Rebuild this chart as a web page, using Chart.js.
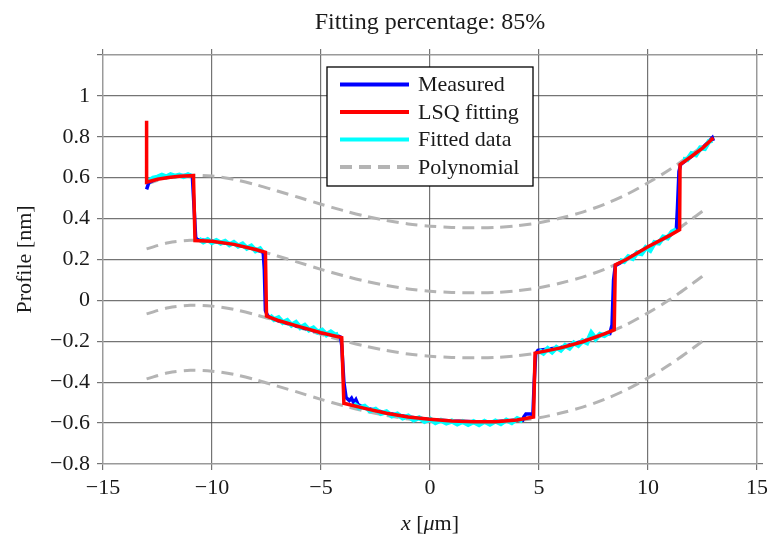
<!DOCTYPE html>
<html>
<head>
<meta charset="utf-8">
<title>Profile fit</title>
<script src="https://cdn.jsdelivr.net/npm/chart.js@4.4.1/dist/chart.umd.min.js"></script>
<style>
  html, body { margin: 0; padding: 0; background: #fff; }
  #wrap { width: 767px; height: 534px; }
</style>
</head>
<body>
<div id="wrap"><canvas id="profileChart" width="767" height="534"></canvas></div>
<script>
    // fonts
    const FONT = '"Liberation Serif", "DejaVu Serif", serif';

    // measured profile
    const measX = [-13.0,-12.9,-12.5,-12.0,-11.5,-11.0,-10.9,-10.82,-10.75,-10.7,-10.0,-9.0,-8.0,-7.65,-7.6,-7.55,-7.45,-7.0,-6.0,-5.0,
                   -4.2,-4.1,-4.05,-3.95,-3.85,-3.7,-3.6,-3.5,-3.4,-3.3,-3.0,-2.0,-1.0,0.0,1.0,2.0,3.0,4.0,4.25,4.3,
                   4.4,4.6,4.72,4.78,4.85,4.95,6.0,7.0,8.0,8.25,8.35,8.42,8.5,9.0,10.0,11.0,11.3,11.35,11.42,11.5,
                   12.0,12.5,12.95,13.0];
    const measY = [0.543,0.575,0.598,0.604,0.610,0.612,0.605,0.45,0.31,0.298,0.289,0.275,0.250,0.235,0.15,-0.05,-0.075,-0.098,-0.129,-0.158,
                   -0.175,-0.18,-0.22,-0.40,-0.475,-0.49,-0.478,-0.5,-0.485,-0.51,-0.525,-0.550,-0.570,-0.582,-0.590,-0.594,-0.593,-0.585,-0.586,-0.57,
                   -0.555,-0.555,-0.56,-0.40,-0.26,-0.245,-0.230,-0.200,-0.165,-0.162,-0.12,0.10,0.17,0.2,0.26,0.318,0.345,0.45,0.63,0.665,
                   0.705,0.745,0.795,0.78];

    // LSQ fitted terraces
    const lsqX = [-13.0,-13.0,-12.5,-12.0,-11.5,-10.85,-10.78,-10.0,-9.0,-8.0,-7.55,-7.5,-7.0,-6.0,-5.0,-4.05,-3.95,-3.0,-2.0,-1.0,
                  0.0,1.0,2.0,3.0,4.0,4.75,4.82,6.0,7.0,8.0,8.45,8.5,9.0,10.0,11.0,11.45,11.47,12.0,12.5,13.0];
    const lsqY = [0.878,0.578,0.592,0.601,0.607,0.610,0.293,0.289,0.274,0.249,0.235,-0.077,-0.097,-0.128,-0.158,-0.182,-0.503,-0.528,-0.552,-0.570,
                  -0.581,-0.590,-0.594,-0.593,-0.585,-0.570,-0.258,-0.232,-0.202,-0.164,-0.144,0.174,0.200,0.262,0.318,0.346,0.664,0.705,0.745,0.795];

    // points used for the fit, one list per terrace
    const fitX = [
        [-12.9,-12.7,-12.5,-12.3,-12.1,-11.9,-11.7,-11.5,-11.3,-11.1,-10.95],
        [-10.6,-10.4,-10.2,-10.0,-9.8,-9.6,-9.4,-9.2,-9.0,-8.8,-8.6,-8.4,-8.2,-8.0,-7.8,-7.7],
        [-7.35,-7.15,-6.95,-6.75,-6.55,-6.35,-6.15,-5.95,-5.75,-5.55,-5.35,-5.15,-4.95,-4.75,-4.55,-4.35,-4.2],
        [-3.5,-3.25,-3.0,-2.75,-2.5,-2.25,-2.0,-1.75,-1.5,-1.25,-1.0,-0.75,-0.5,-0.25,0.0,0.25,
         0.5,0.75,1.0,1.25,1.5,1.75,2.0,2.25,2.5,2.75,3.0,3.25,3.5,3.75,4.0,4.25],
        [5.0,5.2,5.4,5.6,5.8,6.0,6.2,6.4,6.6,6.8,7.0,7.2,7.4,7.6,7.8,8.0,8.2],
        [8.7,8.9,9.1,9.3,9.5,9.7,9.9,10.1,10.3,10.5,10.7,10.9,11.1,11.3],
        [11.6,11.8,12.0,12.2,12.4,12.6,12.8,12.95]
    ];
    const fitY = [
        [0.585,0.598,0.603,0.612,0.604,0.615,0.608,0.613,0.605,0.614,0.607],
        [0.300,0.286,0.297,0.283,0.293,0.280,0.289,0.272,0.283,0.266,0.276,0.255,0.266,0.243,0.252,0.238],
        [-0.075,-0.094,-0.085,-0.108,-0.098,-0.121,-0.108,-0.133,-0.122,-0.145,-0.135,-0.155,-0.146,-0.168,-0.155,-0.170,-0.165],
        [-0.505,-0.525,-0.518,-0.540,-0.532,-0.553,-0.545,-0.565,-0.556,-0.575,-0.566,-0.585,-0.574,-0.592,-0.580,-0.598,
         -0.586,-0.600,-0.590,-0.604,-0.592,-0.606,-0.593,-0.607,-0.591,-0.605,-0.590,-0.603,-0.585,-0.598,-0.578,-0.590],
        [-0.245,-0.258,-0.236,-0.252,-0.230,-0.243,-0.220,-0.233,-0.208,-0.220,-0.197,-0.207,-0.160,-0.188,-0.166,-0.172,-0.158],
        [0.195,0.190,0.214,0.205,0.233,0.228,0.258,0.245,0.283,0.280,0.310,0.305,0.335,0.345],
        [0.690,0.688,0.718,0.712,0.745,0.742,0.778,0.783]
    ];

    // polynomial background, four shifted copies
    const polyX = [-13,-12,-11,-10,-9,-8,-7,-6,-5,-4,-3,-2,-1,0,1,2,3,4,5,6,7,8,9,10,11,12,12.7];
    const poly1 = [0.570,0.600,0.612,0.608,0.592,0.566,0.535,0.503,0.470,0.440,0.413,0.391,0.374,0.363,0.357,0.355,0.357,0.365,0.380,0.403,0.432,0.470,0.517,0.575,0.640,0.715,0.770];
    const poly2 = [0.252,0.282,0.294,0.290,0.274,0.248,0.217,0.185,0.152,0.122,0.095,0.073,0.056,0.045,0.039,0.037,0.039,0.047,0.062,0.085,0.114,0.152,0.199,0.257,0.322,0.397,0.452];
    const poly3 = [-0.066,-0.036,-0.024,-0.028,-0.044,-0.070,-0.101,-0.133,-0.166,-0.196,-0.223,-0.245,-0.262,-0.273,-0.279,-0.281,-0.279,-0.271,-0.256,-0.233,-0.204,-0.166,-0.119,-0.061,0.004,0.079,0.134];
    const poly4 = [-0.384,-0.354,-0.342,-0.346,-0.362,-0.388,-0.419,-0.451,-0.484,-0.514,-0.541,-0.563,-0.580,-0.591,-0.597,-0.599,-0.597,-0.589,-0.574,-0.551,-0.522,-0.484,-0.437,-0.379,-0.314,-0.239,-0.184];

    // axis ticks
    const xTicks = [-15,-10,-5,0,5,10,15];
    const yTicks = [-0.8,-0.6,-0.4,-0.2,0,0.2,0.4,0.6,0.8,1];

    let toPoints = (xs, ys) => xs.map((x, i) => ({x: x, y: ys[i]}));

    // terraces joined, with a gap (null) between them
    let fitPoints = [];
    fitX.forEach((seg, k) => {
        if (k > 0) fitPoints.push({x: seg[0], y: null});
        fitPoints = fitPoints.concat(toPoints(seg, fitY[k]));
    });

    let tickText = (v) => {
        let r = Math.round(v * 10) / 10;
        return String(r).replace('-', '\u2212');
    };

    const GRID = 'rgba(70,70,70,0.75)';
    const FRAME = '#9a9a9a';
    const polyStyle = {borderColor: '#b4b4b4', borderWidth: 3, borderDash: [12, 7], tension: 0.3, order: 3};

    // legend box drawn inside the plot
    const insideLegend = {
        id: 'insideLegend',
        afterDraw(chart) {
            const {ctx, chartArea} = chart;
            const items = chart.data.datasets.filter(d => d.label);
            const x0 = chartArea.left + 224, y0 = chartArea.top + 12, w = 206, h = 119;
            ctx.save();
            ctx.fillStyle = '#fff';
            ctx.fillRect(x0, y0, w, h);
            ctx.strokeStyle = '#000';
            ctx.lineWidth = 1.3;
            ctx.strokeRect(x0, y0, w, h);
            ctx.font = '22px ' + FONT;
            ctx.textBaseline = 'middle';
            items.forEach((d, i) => {
                const y = y0 + 17.5 + i * 27.5;
                ctx.beginPath();
                ctx.setLineDash(d.borderDash || []);
                ctx.strokeStyle = d.borderColor;
                ctx.lineWidth = 4;
                ctx.moveTo(x0 + 13, y);
                ctx.lineTo(x0 + 82, y);
                ctx.stroke();
                ctx.setLineDash([]);
                ctx.fillStyle = '#1a1a1a';
                ctx.fillText(d.label, x0 + 91, y + 1);
            });
            ctx.restore();
        }
    };

    // x axis title with italic math symbols
    const xTitle = {
        id: 'xTitle',
        afterDraw(chart) {
            const {ctx, chartArea} = chart;
            const parts = [['x', 'italic '], [' [', ''], ['\u03bc', 'italic '], ['m]', '']];
            ctx.save();
            ctx.fillStyle = '#1a1a1a';
            ctx.textBaseline = 'alphabetic';
            let total = 0;
            parts.forEach(p => { ctx.font = p[1] + '22px ' + FONT; total += ctx.measureText(p[0]).width; });
            let x = (chartArea.left + chartArea.right) / 2 - total / 2;
            parts.forEach(p => {
                ctx.font = p[1] + '22px ' + FONT;
                ctx.fillText(p[0], x, 530);
                x += ctx.measureText(p[0]).width;
            });
            ctx.restore();
        }
    };

    const ctx = document.getElementById('profileChart');
    const profileChart = new Chart(ctx, {
        type: 'line',
        data: {
            datasets: [
                {label: 'Measured', data: toPoints(measX, measY), borderColor: '#0000ff', borderWidth: 3.5, order: 2},
                {label: 'LSQ fitting', data: toPoints(lsqX, lsqY), borderColor: '#ff0000', borderWidth: 3.5, order: 0},
                {label: 'Fitted data', data: fitPoints, borderColor: '#00ffff', borderWidth: 5, spanGaps: false, order: 1},
                Object.assign({label: 'Polynomial', data: toPoints(polyX, poly1)}, polyStyle),
                Object.assign({label: '', data: toPoints(polyX, poly2)}, polyStyle),
                Object.assign({label: '', data: toPoints(polyX, poly3)}, polyStyle),
                Object.assign({label: '', data: toPoints(polyX, poly4)}, polyStyle)
            ]
        },
        options: {
            responsive: false,
            animation: false,
            devicePixelRatio: 1,
            layout: {padding: 0},
            elements: {point: {radius: 0, hoverRadius: 0}, line: {fill: false, borderCapStyle: 'butt', borderJoinStyle: 'miter'}},
            plugins: {
                legend: {display: false},
                tooltip: {enabled: false}
            },
            scales: {
                x: {
                    type: 'linear', position: 'bottom', min: -15, max: 15,
                    afterBuildTicks: s => { s.ticks = xTicks.map(v => ({value: v})); },
                    ticks: {font: {family: FONT, size: 22}, color: '#1a1a1a', padding: 5, maxRotation: 0, callback: tickText},
                    grid: {color: GRID, lineWidth: 1.2, tickLength: 6},
                    border: {color: FRAME, width: 1.3},
                    // end labels may hang over the frame without shrinking the plot
                    afterFit: s => { s.height = 70; s.paddingLeft = 0; s.paddingRight = 0; }
                },
                xTop: {
                    type: 'linear', position: 'top', min: -15, max: 15,
                    afterBuildTicks: s => { s.ticks = xTicks.map(v => ({value: v})); },
                    ticks: {display: false},
                    grid: {color: GRID, lineWidth: 1.2, tickLength: 6, drawOnChartArea: false},
                    border: {color: FRAME, width: 1.3},
                    title: {display: true, text: 'Fitting percentage: 85%', color: '#1a1a1a',
                            font: {family: FONT, size: 24, lineHeight: 1.2}, padding: {top: 8, bottom: 0}},
                    afterFit: s => { s.height = 55; s.paddingLeft = 0; s.paddingRight = 0; }
                },
                y: {
                    type: 'linear', position: 'left', min: -0.8, max: 1.2,
                    afterBuildTicks: s => { s.ticks = yTicks.concat([1.2]).map(v => ({value: v})); },
                    ticks: {font: {family: FONT, size: 22}, color: '#1a1a1a', padding: 7,
                            callback: v => (v > 1.1 ? '' : tickText(v))},
                    grid: {color: GRID, lineWidth: 1.2, tickLength: 6},
                    border: {color: FRAME, width: 1.3},
                    title: {display: true, text: 'Profile [nm]', color: '#1a1a1a',
                            font: {family: FONT, size: 22, lineHeight: 1.2}, padding: {top: 12, bottom: 0}},
                    afterFit: s => { s.width = 103; }
                },
                yRight: {
                    type: 'linear', position: 'right', min: -0.8, max: 1.2,
                    afterBuildTicks: s => { s.ticks = yTicks.concat([1.2]).map(v => ({value: v})); },
                    ticks: {display: false},
                    grid: {color: GRID, lineWidth: 1.2, tickLength: 6, drawOnChartArea: false},
                    border: {color: FRAME, width: 1.3},
                    afterFit: s => { s.width = 10; }
                }
            }
        },
        plugins: [insideLegend, xTitle]
    });
</script>
</body>
</html>
